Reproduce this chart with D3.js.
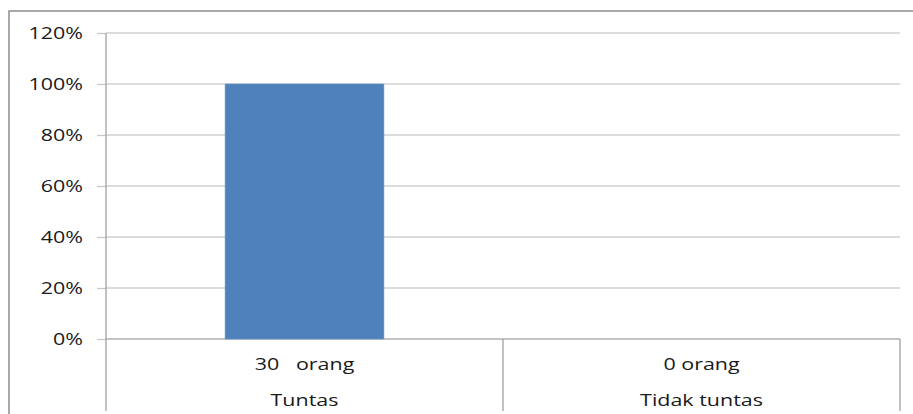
<!DOCTYPE html>
<html><head><meta charset="utf-8">
<script src="https://cdn.jsdelivr.net/npm/d3@7"></script>
<style>body{margin:0;background:#fff}svg{display:block}text{font-family:"Open Sans",Lato,sans-serif;fill:#1a1a1a}</style>
</head><body><div id="chart"></div>
<script>
const categories = ["Tuntas", "Tidak tuntas"];
const subLabels = ["30   orang", "0 orang"];
const values = [1.0, 0.0];
const yTicks = [0, 0.2, 0.4, 0.6, 0.8, 1.0, 1.2];

const W = 913, H = 414;
const m = {left: 106, right: 13, top: 33, bottom: 75};
const SX = 1.3, FS = 16.5;
const svg = d3.select("#chart").append("svg").attr("width", W).attr("height", H);

// outer frame
svg.append("rect").attr("x", 9).attr("y", 11).attr("width", 920).attr("height", 420)
  .attr("fill", "none").attr("stroke", "#8c8c8c").attr("stroke-width", 1.5);

const x = d3.scaleBand().domain(categories).range([m.left, W - m.right]).paddingInner(0).paddingOuter(0);
const y = d3.scaleLinear().domain([0, 1.2]).range([H - m.bottom, m.top]);

// y ticks (lines from the axis generator, labels drawn stretched)
const yAxis = d3.axisLeft(y).tickValues(yTicks).tickFormat(d3.format(".0%")).tickSize(9);
const gy = svg.append("g").attr("transform", `translate(${m.left},0)`).call(yAxis);
gy.select(".domain").remove();
gy.selectAll(".tick line").attr("stroke", "#c8c8c8").attr("stroke-width", 1.3);
gy.selectAll(".tick text").remove();
gy.selectAll(".tick").append("text")
  .attr("transform", `translate(-23,0) scale(${SX},1)`)
  .attr("text-anchor", "end").attr("dy", "0.35em").attr("font-size", FS)
  .text(d => d3.format(".0%")(d));

// gridlines
svg.append("g").selectAll("line").data(yTicks).join("line")
  .attr("x1", m.left).attr("x2", W - m.right)
  .attr("y1", d => y(d)).attr("y2", d => y(d))
  .attr("stroke", d => d === 0 ? "#b0b0b0" : "#d0d0d0").attr("stroke-width", 1.3);

// bars
const bw = x.bandwidth() * 0.4;
svg.append("g").selectAll("rect").data(values).join("rect")
  .attr("x", (d, i) => x(categories[i]) + x.bandwidth() / 2 - bw / 2)
  .attr("width", bw)
  .attr("y", d => y(d)).attr("height", d => y(0) - y(d))
  .attr("fill", "#4f81bd").attr("stroke", "#6a95c8").attr("stroke-width", 0.6);

// y axis line
svg.append("line").attr("x1", m.left).attr("x2", m.left).attr("y1", m.top).attr("y2", H - 3)
  .attr("stroke", "#a0a0a0").attr("stroke-width", 1.3);

// category separators
const seps = categories.map(c => x(c) + x.bandwidth());
svg.append("g").selectAll("line").data(seps).join("line")
  .attr("x1", d => d).attr("x2", d => d).attr("y1", y(0)).attr("y2", H - 3)
  .attr("stroke", "#a0a0a0").attr("stroke-width", 1.3);

// category labels
const gl = svg.append("g");
gl.selectAll("text.sub").data(subLabels).join("text").attr("class", "sub")
  .attr("transform", (d, i) => `translate(${x(categories[i]) + x.bandwidth() / 2},370) scale(${SX},1)`)
  .attr("text-anchor", "middle").attr("font-size", FS)
  .style("white-space", "pre").text(d => d);
gl.selectAll("text.cat").data(categories).join("text").attr("class", "cat")
  .attr("transform", d => `translate(${x(d) + x.bandwidth() / 2},406) scale(${SX},1)`)
  .attr("text-anchor", "middle").attr("font-size", FS).text(d => d);
</script></body></html>
